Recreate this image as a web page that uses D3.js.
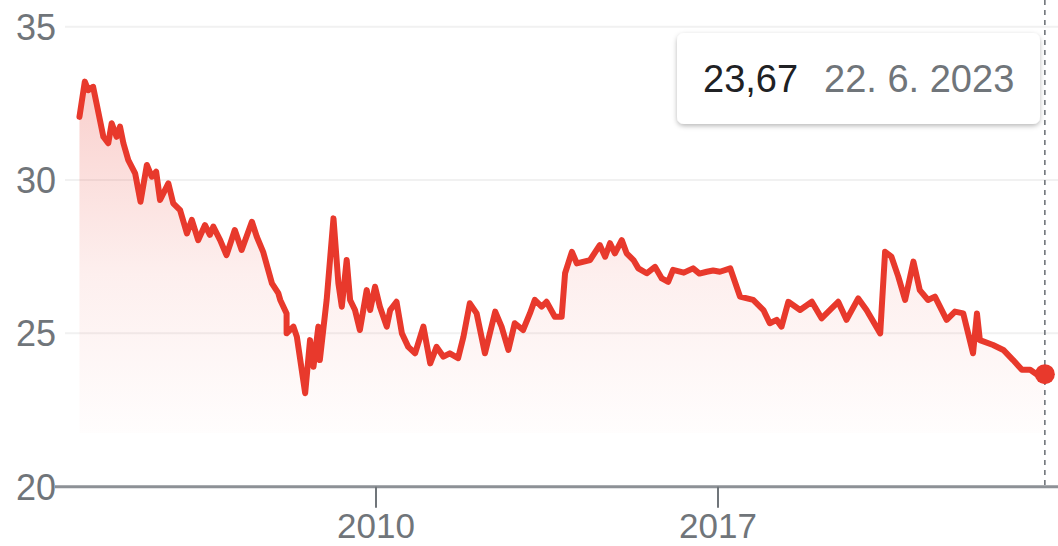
<!DOCTYPE html>
<html><head><meta charset="utf-8">
<script src="https://cdn.jsdelivr.net/npm/d3@7"></script>
<style>
html,body{margin:0;padding:0;background:#fff;overflow:hidden;}
svg{display:block;font-family:"Liberation Sans",Arial,sans-serif;}
</style></head>
<body>
<svg id="chart" width="1058" height="546"></svg>
<script>
const years = [2003.93,2004.04,2004.11,2004.21,2004.28,2004.42,2004.52,2004.59,2004.69,2004.76,2004.83,2004.93,2005.07,2005.18,2005.31,2005.41,2005.50,2005.58,2005.75,2005.85,2005.99,2006.13,2006.23,2006.36,2006.50,2006.60,2006.67,2006.81,2006.94,2007.11,2007.25,2007.46,2007.56,2007.69,2007.87,2008.00,2008.04,2008.17,2008.17,2008.31,2008.38,2008.55,2008.65,2008.72,2008.82,2008.85,2008.99,2009.13,2009.23,2009.30,2009.40,2009.47,2009.57,2009.67,2009.81,2009.88,2009.98,2010.08,2010.22,2010.29,2010.42,2010.53,2010.66,2010.80,2010.97,2011.11,2011.24,2011.38,2011.51,2011.68,2011.79,2011.92,2012.06,2012.23,2012.44,2012.57,2012.71,2012.84,2013.01,2013.15,2013.25,2013.39,2013.49,2013.66,2013.80,2013.87,2014.01,2014.11,2014.38,2014.58,2014.69,2014.79,2014.89,2015.03,2015.13,2015.27,2015.37,2015.54,2015.71,2015.85,2015.98,2016.08,2016.30,2016.49,2016.62,2016.77,2016.90,2017.04,2017.25,2017.45,2017.72,2017.93,2018.06,2018.20,2018.30,2018.44,2018.68,2018.92,2019.12,2019.33,2019.46,2019.63,2019.87,2020.04,2020.32,2020.42,2020.55,2020.69,2020.83,2021.00,2021.13,2021.30,2021.44,2021.68,2021.85,2022.02,2022.22,2022.30,2022.36,2022.63,2022.84,2023.04,2023.22,2023.39,2023.52,2023.69];
const prices = [32.06,33.21,32.93,33.04,32.50,31.41,31.20,31.85,31.41,31.74,31.20,30.65,30.22,29.29,30.49,30.11,30.27,29.35,29.89,29.24,29.02,28.26,28.70,28.04,28.53,28.21,28.48,28.04,27.55,28.37,27.72,28.64,28.15,27.66,26.63,26.31,26.09,25.65,25.00,25.22,24.89,23.05,24.78,23.91,25.22,24.13,26.09,28.75,26.63,25.87,27.39,26.09,25.76,25.11,26.41,25.76,26.52,25.87,25.22,25.76,26.03,25.00,24.56,24.35,25.22,24.02,24.56,24.24,24.35,24.19,24.89,25.98,25.65,24.35,25.71,25.22,24.46,25.33,25.11,25.65,26.09,25.87,26.03,25.54,25.54,26.96,27.66,27.28,27.39,27.88,27.50,27.94,27.61,28.04,27.61,27.39,27.12,26.96,27.17,26.79,26.68,27.07,26.98,27.12,26.95,27.01,27.05,27.01,27.12,26.20,26.09,25.76,25.33,25.44,25.22,26.03,25.76,26.03,25.49,25.82,26.03,25.44,26.14,25.76,25.00,27.66,27.50,26.85,26.09,27.34,26.41,26.09,26.20,25.44,25.71,25.65,24.35,25.65,24.78,24.62,24.46,24.13,23.81,23.81,23.67,23.67];
const yTicks = [20,25,30,35];
const xTicks = [2010,2017];
const tipValue = "23,67";
const tipDate = "22. 6. 2023";

const data = years.map((y,i)=>({x:y, v:prices[i]}));
const svg = d3.select("#chart");
const x = d3.scaleLinear().domain([2010,2017]).range([376,718]);
const y = d3.scaleLinear().domain([20,35]).range([486.7,26.7]);
const red = "#e8392c";

const defs = svg.append("defs");
const grad = defs.append("linearGradient").attr("id","fillGrad")
  .attr("gradientUnits","userSpaceOnUse").attr("x1",0).attr("x2",0)
  .attr("y1",y(33.2)).attr("y2",y(21.75));
grad.append("stop").attr("offset","0").attr("stop-color",red).attr("stop-opacity",0.24);
grad.append("stop").attr("offset","0.55").attr("stop-color",red).attr("stop-opacity",0.08);
grad.append("stop").attr("offset","1").attr("stop-color",red).attr("stop-opacity",0.01);
const sh = defs.append("filter").attr("id","shadow").attr("x","-10%").attr("y","-20%").attr("width","120%").attr("height","150%");
sh.append("feDropShadow").attr("dx",0).attr("dy",2).attr("stdDeviation",2.5).attr("flood-color","#000").attr("flood-opacity",0.28);

svg.append("g").selectAll("line").data(yTicks.filter(t=>t!==20)).join("line")
  .attr("x1",65).attr("x2",1058).attr("y1",d=>y(d)).attr("y2",d=>y(d))
  .attr("stroke","#f1f1f1").attr("stroke-width",2);

svg.append("path").datum(data)
  .attr("d", d3.area().x(d=>x(d.x)).y0(y(21.75)).y1(d=>y(d.v)))
  .attr("fill","url(#fillGrad)");

svg.append("line").attr("x1",55).attr("x2",1058).attr("y1",y(20)).attr("y2",y(20))
  .attr("stroke","#8d9196").attr("stroke-width",3);

const xg = svg.append("g");
xg.selectAll("line").data(xTicks).join("line")
  .attr("x1",d=>x(d)).attr("x2",d=>x(d)).attr("y1",y(20)).attr("y2",y(20)+21)
  .attr("stroke","#70757a").attr("stroke-width",2);
xg.selectAll("text").data(xTicks).join("text")
  .attr("x",d=>x(d)).attr("y",538).attr("text-anchor","middle")
  .attr("font-size",35).attr("fill","#70757a").text(d=>d);

svg.append("g").selectAll("text").data(yTicks).join("text")
  .attr("x",56).attr("y",d=>y(d)+13).attr("text-anchor","end")
  .attr("font-size",36).attr("fill","#70757a").text(d=>d);

const last = data[data.length-1];
svg.append("line").attr("x1",x(last.x)).attr("x2",x(last.x)).attr("y1",0).attr("y2",y(20))
  .attr("stroke","#70757a").attr("stroke-width",1.6).attr("stroke-dasharray","5,5");

svg.append("path").datum(data)
  .attr("d", d3.line().x(d=>x(d.x)).y(d=>y(d.v)))
  .attr("fill","none").attr("stroke",red).attr("stroke-width",6)
  .attr("stroke-linejoin","round").attr("stroke-linecap","round");

svg.append("circle").attr("cx",x(last.x)).attr("cy",y(last.v)).attr("r",10).attr("fill",red);

const tip = svg.append("g");
tip.append("rect").attr("x",677).attr("y",33).attr("width",363).attr("height",91)
  .attr("rx",7).attr("fill","#fff").attr("filter","url(#shadow)");
const tt = tip.append("text").attr("x",703).attr("y",92).attr("font-size",38);
tt.append("tspan").attr("fill","#202124").text(tipValue);
tt.append("tspan").attr("fill","#70757a").attr("dx",26).text(tipDate);
</script>
</body></html>
